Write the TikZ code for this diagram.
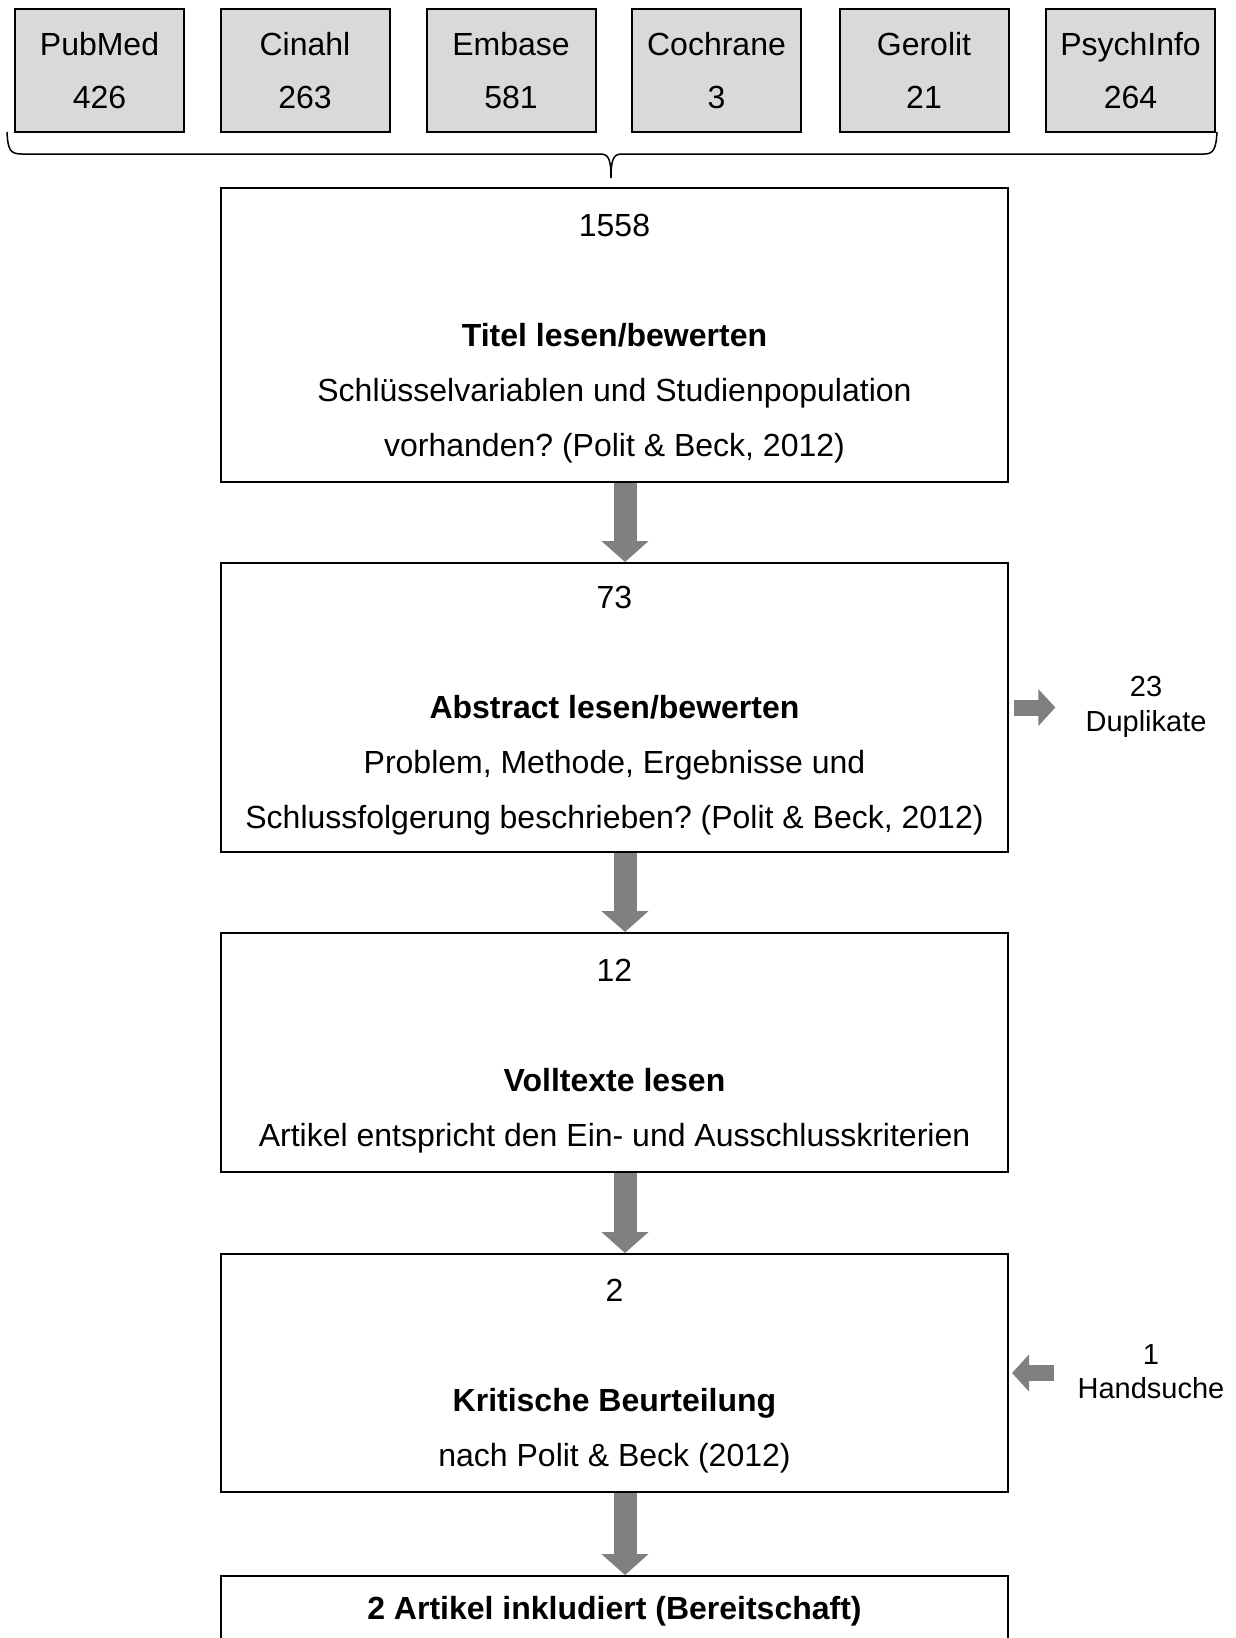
\documentclass[tikz,border=0pt]{standalone}
\usepackage{fontspec}
\setmainfont{Liberation Sans}
\usetikzlibrary{arrows.meta}
\definecolor{boxgray}{HTML}{D9D9D9}
\definecolor{arrgray}{HTML}{808080}
\frenchspacing
\newcommand{\topstrut}{\rule{0pt}{29pt}}
\begin{document}
\begin{tikzpicture}[x=1pt,y=-1pt,
  dbbox/.style={draw, line width=2pt, fill=boxgray, minimum width=169pt, minimum height=123pt, inner sep=0pt, align=center, font=\fontsize{32}{53}\selectfont},
  mainbox/.style={draw, line width=2pt, minimum width=787pt, inner sep=0pt, align=center, font=\fontsize{32}{55}\selectfont},
  sidetext/.style={inner sep=0pt, align=center, font=\fontsize{29}{34.5}\selectfont},
  bigarrow/.style={draw=arrgray, line width=23pt, -{Triangle[width=46pt,length=21pt]}},
  sidearrow/.style={draw=arrgray, line width=16pt, -{Triangle[width=36pt,length=17pt]}},
  bracestyle/.style={line width=1.5pt}
]
\useasboundingbox (0,0) rectangle (1236,1638);
\fill[white] (0,0) rectangle (1236,1638);
\clip (0,0) rectangle (1236,1638);

% database boxes
\node[dbbox] (pubmed)   at (99.5,70.5)  {PubMed\\426};
\node[dbbox] (cinahl)   at (305,70.5)   {Cinahl\\263};
\node[dbbox] (embase)   at (511,70.5)   {Embase\\581};
\node[dbbox] (cochrane) at (716.5,70.5) {Cochrane\\3};
\node[dbbox] (gerolit)  at (924,70.5)   {Gerolit\\21};
\node[dbbox] (psych)    at (1130.5,70.5) {PsychInfo\\264};

% brace
\draw[bracestyle] (7,132) .. controls (8,150) and (10,154) .. (22,154) -- (600,154)
  .. controls (608,154) and (611,158) .. (611,178);
\draw[bracestyle] (611,178) .. controls (611,158) and (614,154) .. (622,154) -- (1204,154)
  .. controls (1213,154) and (1216,150) .. (1217,132);

% main boxes
\node[mainbox, minimum height=294pt] (b1) at (614.5,335) {\topstrut 1558\\[55pt]\textbf{Titel lesen/bewerten}\\Schlüsselvariablen und Studienpopulation\\vorhanden? (Polit \& Beck, 2012)};
\node[mainbox, minimum height=289pt] (b2) at (614.5,707.5) {\topstrut 73\\[55pt]\textbf{Abstract lesen/bewerten}\\Problem, Methode, Ergebnisse und\\Schlussfolgerung beschrieben? (Polit \& Beck, 2012)};
\node[mainbox, minimum height=239pt] (b3) at (614.5,1052.5) {\topstrut 12\\[55pt]\textbf{Volltexte lesen}\\Artikel entspricht den Ein- und Ausschlusskriterien};
\node[mainbox, minimum height=238pt] (b4) at (614.5,1373) {\topstrut 2\\[55pt]\textbf{Kritische Beurteilung}\\nach Polit \& Beck (2012)};
\node[mainbox, minimum height=70pt, anchor=north] (b5) at (614.5,1575) {\textbf{2 Artikel inkludiert (Bereitschaft)}};

% side texts
\node[sidetext] (dup)  at (1146,707)    {23\\Duplikate};
\node[sidetext] (hand) at (1151,1371.5) {1\\Handsuche};
\coordinate (dupin)  at (b2.east -| dup.west);
\coordinate (handin) at (b4.east -| hand.west);

% flow arrows
\draw[bigarrow] ([xshift=10.5pt]b1.south) -- ([xshift=10.5pt]b2.north);
\draw[bigarrow] ([xshift=10.5pt]b2.south) -- ([xshift=10.5pt]b3.north);
\draw[bigarrow] ([xshift=10.5pt]b3.south) -- ([xshift=10.5pt]b4.north);
\draw[bigarrow] ([xshift=10.5pt]b4.south) -- ([xshift=10.5pt]b5.north);

% side arrows
\draw[sidearrow] ([xshift=5pt]b2.east) -- ([xshift=-30pt]dupin);
\draw[sidearrow] ([xshift=-23pt]handin) -- ([xshift=3pt]b4.east);
\end{tikzpicture}
\end{document}
